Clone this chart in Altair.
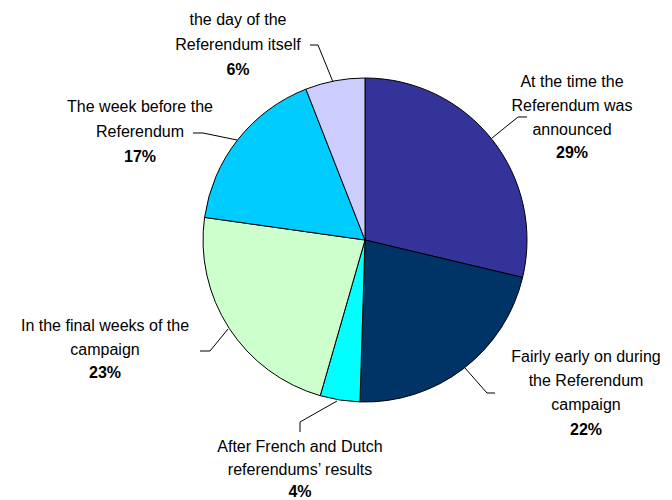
import altair as alt
import pandas as pd

# ---- data ----
categories = [
    "At the time the Referendum was announced",
    "Fairly early on during the Referendum campaign",
    "After French and Dutch referendums' results",
    "In the final weeks of the campaign",
    "The week before the Referendum",
    "the day of the Referendum itself",
]
values = [29, 22, 4, 23, 17, 6]
label_lines = [
    ["At the time the", "Referendum was", "announced"],
    ["Fairly early on during", "the Referendum", "campaign"],
    ["After French and Dutch", "referendums\u2019 results"],
    ["In the final weeks of the", "campaign"],
    ["The week before the", "Referendum"],
    ["the day of the", "Referendum itself"],
]
colors = ["#333399", "#003366", "#00FFFF", "#CCFFCC", "#00CCFF", "#CCCCFF"]

# ---- layout (page pixel coordinates) ----
W, H = 656, 492
OFF = 8
CX, CY, R = 365, 240, 162
label_pos = [  # (center x, first line y, line spacing, pct y)
    (572, 82, 24, 153),
    (586, 357, 24, 430),
    (300, 447, 23, 492),
    (105, 326, 24, 373),
    (140, 107, 25, 157),
    (238, 20, 25, 70),
]
leaders = [
    [(527, 117), (518, 117), (492, 138)],
    [(495, 393), (487, 393), (465, 368)],
    [(300, 432), (300, 422), (337, 401)],
    [(200, 351), (210, 351), (228, 329)],
    [(193, 133), (203, 133), (237, 140)],
    [(310, 45), (318, 45), (333, 82)],
]

pie_df = pd.DataFrame({"cat": categories, "val": values, "ord": list(range(len(values)))})

text_rows = []
for i, lines in enumerate(label_lines):
    x, y0, dy, yp = label_pos[i]
    for j, t in enumerate(lines):
        text_rows.append({"t": t, "x": x - OFF, "y": y0 + j * dy - OFF, "bold": "n"})
    text_rows.append({"t": f"{values[i]}%", "x": x - OFF, "y": yp - OFF, "bold": "b"})
text_df = pd.DataFrame(text_rows)

line_rows = []
for i, pts in enumerate(leaders):
    for k, (x, y) in enumerate(pts):
        line_rows.append({"g": i, "k": k, "x": x - OFF, "y": y - OFF})
line_df = pd.DataFrame(line_rows)

xs = alt.Scale(domain=[0, W], range=[0, W])
ys = alt.Scale(domain=[0, H], range=[0, H])

pie = alt.Chart(pie_df).mark_arc(outerRadius=R, stroke="black", strokeWidth=1).encode(
    theta=alt.Theta("val:Q", stack=True),
    order=alt.Order("ord:Q"),
    color=alt.Color("cat:N", scale=alt.Scale(domain=categories, range=colors), legend=None),
    x=alt.value(CX - OFF),
    y=alt.value(CY - OFF),
)

lines = alt.Chart(line_df).mark_line(color="black", strokeWidth=1).encode(
    x=alt.X("x:Q", scale=xs, axis=None),
    y=alt.Y("y:Q", scale=ys, axis=None),
    detail="g:N",
    order="k:Q",
)

txt_normal = alt.Chart(text_df[text_df.bold == "n"]).mark_text(
    font="Liberation Sans", fontSize=16, color="black", baseline="middle", align="center"
).encode(
    x=alt.X("x:Q", scale=xs, axis=None),
    y=alt.Y("y:Q", scale=ys, axis=None),
    text="t:N",
)
txt_bold = alt.Chart(text_df[text_df.bold == "b"]).mark_text(
    font="Liberation Sans", fontSize=16, fontWeight="bold", color="black", baseline="middle", align="center"
).encode(
    x=alt.X("x:Q", scale=xs, axis=None),
    y=alt.Y("y:Q", scale=ys, axis=None),
    text="t:N",
)

chart = alt.layer(pie, lines, txt_normal, txt_bold).properties(
    width=W, height=H, autosize=alt.AutoSizeParams(type="none"), padding=0
).configure_view(stroke=None)

chart.save("out.html", embed_options={"renderer": "svg", "actions": False})
